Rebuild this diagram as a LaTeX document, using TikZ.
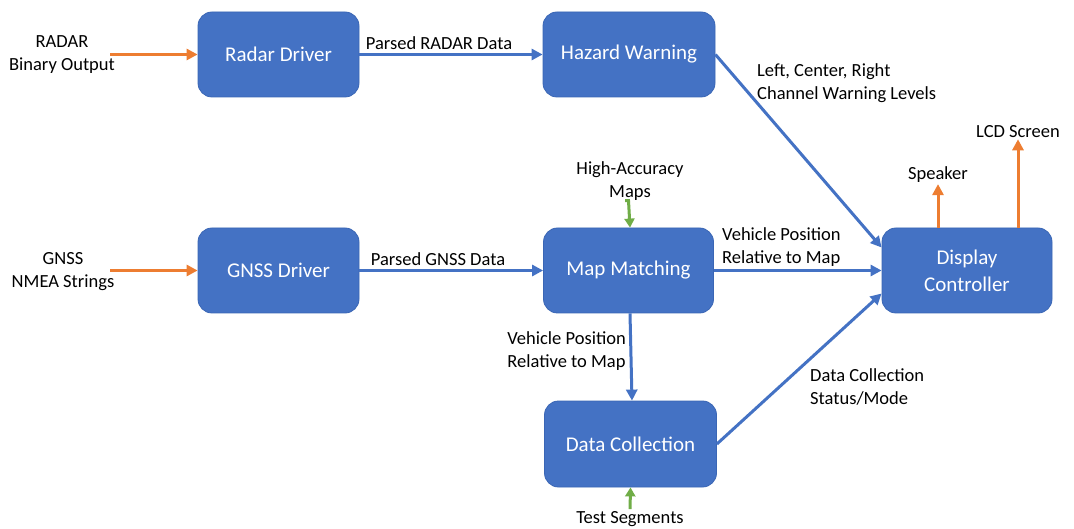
\documentclass[tikz,border=0pt]{standalone}
\usepackage{fontspec}
\setmainfont{Carlito}
\usetikzlibrary{arrows.meta}
\definecolor{boxblue}{HTML}{4472C4}
\definecolor{boxedge}{HTML}{3A66B5}
\definecolor{arrorange}{HTML}{ED7D31}
\definecolor{arrgreen}{HTML}{70AD47}
\tikzset{
  box/.style={draw=boxedge, line width=0.8pt, fill=boxblue, rounded corners=14pt,
    text=white, font=\fontsize{21}{27}\selectfont, align=center, inner sep=0pt},
  lbl/.style={font=\fontsize{18.5}{23}\selectfont, inner sep=0pt, text=black},
  flow/.style={draw=boxblue, line width=3pt, -{Triangle[length=11pt,width=11pt]}},
  inflow/.style={draw=arrorange, line width=3pt, -{Triangle[length=11pt,width=11pt]}},
  ext/.style={draw=arrgreen, line width=3pt, -{Triangle[length=9pt,width=10pt]}},
}
\begin{document}
\begin{tikzpicture}[x=1pt,y=-1pt]
\useasboundingbox[fill=white] (0,0) rectangle (1074,529);

% boxes
\node[box, minimum width=161pt, minimum height=85pt] (radar) at (278.5,54.5) {Radar Driver};
\node[box, minimum width=172pt, minimum height=85pt] (hazard) at (629,54.5) {Hazard Warning};
\node[box, minimum width=161pt, minimum height=85pt] (gnss) at (278.5,270.5) {GNSS Driver};
\node[box, minimum width=170pt, minimum height=85pt] (mm) at (628.5,270.5) {Map Matching};
\node[box, minimum width=172pt, minimum height=86pt] (dc) at (630.5,444) {Data Collection};
\node[box, minimum width=170pt, minimum height=85pt] (disp) at (967,270.5) {Display\\Controller};

% external labels
\node[lbl, align=center] (radarin) at (62,55) {RADAR\\Binary Output};
\node[lbl, align=center] (gnssin) at (63,272) {GNSS\\NMEA Strings};
\coordinate (radarsrc) at (110,54.5);
\coordinate (gnsssrc) at (110,270.5);
\node[lbl, align=center] (hamaps) at (630,181) {High-Accuracy\\Maps};
\node[lbl] (tseg) at (630,519) {Test Segments};
\node[lbl] (spk) at (938,175) {Speaker};
\node[lbl] (lcd) at (1018,132) {LCD Screen};

% connector labels
\node[lbl] (l1) at (439,43) {Parsed RADAR Data};
\node[lbl] (l2) at (438,259) {Parsed GNSS Data};
\node[lbl, align=left, anchor=west] (l3) at (757,83) {Left, Center, Right\\Channel Warning Levels};
\node[lbl, align=left, anchor=west] (l4) at (722,247.5) {Vehicle Position\\Relative to Map};
\node[lbl, align=left, anchor=east] (l5) at (626,351) {Vehicle Position\\Relative to Map};
\node[lbl, align=left, anchor=west] (l6) at (810,386.5) {Data Collection\\Status/Mode};

% connectors
\draw[inflow] (radarsrc) -- (radar.west);
\draw[inflow] (gnsssrc) -- (gnss.west);
\draw[flow] (radar.east) -- (hazard.west);
\draw[flow] (gnss.east) -- (mm.west);
\draw[flow] (mm.east) -- (disp.west);
\draw[flow] (hazard.east) -- ([yshift=23pt]disp.west);
\draw[flow] ([xshift=1.5pt]mm.south) -- ([xshift=1.5pt]dc.north);
\draw[flow] (dc.east) -- ([yshift=-23pt]disp.west);
\draw[ext, shorten <=5pt] (hamaps.south) -- (mm.north |- hamaps.south) -- ([xshift=1.5pt]mm.north);
\draw[ext, shorten <=2pt] (tseg.north) -- (dc.south);
\draw[inflow] (disp.north -| spk.south) -- ([yshift=-1pt]spk.south);
\draw[inflow] (disp.north -| lcd.south) -- ([yshift=-1pt]lcd.south);
\end{tikzpicture}
\end{document}
